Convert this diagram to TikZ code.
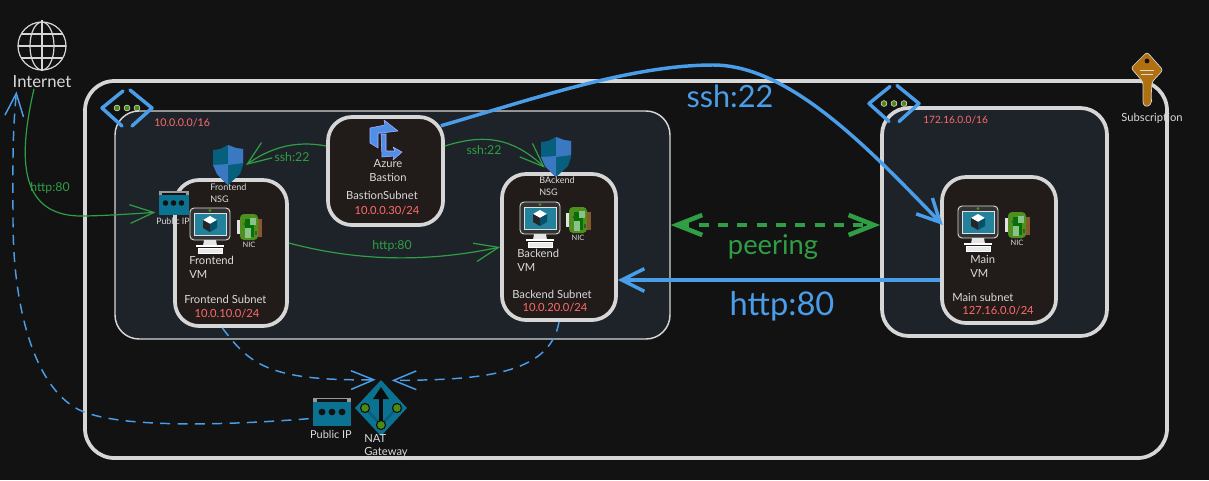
\documentclass[tikz,border=0pt]{standalone}
\usepackage{fontspec}
\setmainfont{Lato}
\usetikzlibrary{positioning, arrows.meta}

\definecolor{bgdark}{HTML}{121212}
\definecolor{vnetfill}{HTML}{1E2329}
\definecolor{subfill}{HTML}{211C1A}
\definecolor{edgegrey}{HTML}{D6D6D6}
\definecolor{txtgrey}{HTML}{DADADA}
\definecolor{redlbl}{HTML}{FF6B6B}
\definecolor{bluelink}{HTML}{4A9DE8}
\definecolor{greenlink}{HTML}{2F9E44}
\definecolor{tealicon}{HTML}{0B7391}
\definecolor{darkteal}{HTML}{065F7D}
\definecolor{shieldblue}{HTML}{3A78C2}
\definecolor{keyorange}{HTML}{B0700F}
\definecolor{nicgreen}{HTML}{4E8F1E}
\definecolor{dotgreen}{HTML}{4C8A12}
\definecolor{bastionblue}{HTML}{4E8FE8}

\tikzset{
	pics/globeicon/.style={code={
		\draw[edgegrey, line width=.9pt] (0,0) circle (18pt);
		\draw[edgegrey, line width=.9pt] (0,0) ellipse (9pt and 18pt);
		\draw[edgegrey, line width=.9pt] (0,-26) -- (0,25);
		\draw[edgegrey, line width=.9pt] (-24,0) -- (24,0);
		\draw[edgegrey, line width=.9pt] (-21,-12) -- (21,-12);
		\draw[edgegrey, line width=.9pt] (-21,12) -- (21,12);
	}},
	pics/vneticon/.style={code={
		\draw[bluelink, line width=2.6pt, line cap=round, line join=round] (-4,-17) -- (-25,0) -- (-5,18);
		\draw[bluelink, line width=2.6pt, line cap=round, line join=round] (3,-18) -- (25,0) -- (5,18);
		\foreach \dotx in {-10,0,10}
			\draw[fill=dotgreen, draw=txtgrey!70, line width=.4pt] (\dotx,0) circle (2.2pt);
	}},
	pics/moniticon/.style={code={
		\draw[txtgrey, fill=bgdark!70!gray, line width=.7pt, rounded corners=3pt] (-20,-16) rectangle (20,16);
		\draw[txtgrey!80, fill=tealicon!90!white, line width=.7pt] (-16,-11) rectangle (16,11);
		\fill[dotgreen] (0,-13.5) circle (1.2pt);
		\fill[white] (-7,-4) -- (0,-8) -- (7,-4) -- (0,0) -- cycle;
		\fill[black!85] (-7,-4) -- (0,0) -- (0,8) -- (-7,4) -- cycle;
		\fill[darkteal!85!black] (7,-4) -- (0,0) -- (0,8) -- (7,4) -- cycle;
		\fill[txtgrey!70] (-6,16) -- (6,16) -- (7,22) -- (-7,22) -- cycle;
		\draw[white, line width=.8pt] (-14,22) -- (14,22);
		\draw[white, fill=txtgrey!60, line width=.6pt] (-12,24) rectangle (12,29);
	}},
	pics/nicicon/.style={code={
		\fill[txtgrey!80] (-12,-7) rectangle (-7,7);
		\fill[brown!70!black] (8,-8) rectangle (13,10);
		\fill[nicgreen, rounded corners=3pt] (-9,-13) rectangle (9,13);
		\fill[green!45!black] (-4,-8) rectangle (5,10);
		\fill[green!30!gray!70] (1,-9) rectangle (7,-2);
		\fill[green!30!gray!70] (-4,1) rectangle (2,11);
		\fill[black!70] (-4,-3) circle (1.2pt);
		\fill[black!70] (6,4) rectangle (8,8);
	}},
	pics/shieldicon/.style={code={
		\fill[darkteal] (-15,-15) -- (-8,-16) -- (0,-20) -- (8,-17) -- (15,-16) -- (15,0) -- (12,9) -- (0,20) -- (-11,9) -- (-15,0) -- cycle;
		\fill[shieldblue] (0,-20) -- (8,-17) -- (15,-16) -- (15,-2) -- (0,0) -- cycle;
		\fill[shieldblue] (-15,0) -- (0,-1) -- (0,20) -- (-11,9) -- cycle;
	}},
	pics/ipicon/.style={code={
		\fill[tealicon] (-15,-12) rectangle (15,12);
		\fill[gray!80] (-15,-12) rectangle (15,-8);
		\fill[bgdark] (-12,-10.5) rectangle (12,-8.5);
		\foreach \dotx in {-8,0,8}
			\fill[bgdark] (\dotx,0) circle (2.1pt);
	}},
	pics/naticon/.style={code={
		\fill[tealicon] (0,-28) -- (26,0) -- (0,28) -- (-26,0) -- cycle;
		\draw[darkteal, line width=2pt] (-16,0) -- (0,17) -- (16,0);
		\draw[bgdark!70!black, line width=3pt] (0,17) -- (0,-10);
		\fill[bgdark!70!black] (-8,-9) -- (0,-21) -- (8,-9) -- cycle;
		\foreach \natx/\naty in {-16/0, 16/0, 0/17}
			\fill[dotgreen, draw=bgdark!70!black, line width=.8pt] (\natx,\naty) circle (3.4pt);
	}},
	pics/bastionicon/.style={code={
		\draw[fill=bastionblue, draw=blue!30!white, line width=.4pt, line join=round] (-16,-11) -- (-1,-14) -- (-2,-19) -- (12,-8) -- (-4,-6) -- (-8,-6) -- (-8,9) -- (-16,4) -- cycle;
		\draw[fill=bastionblue, draw=blue!30!white, line width=.4pt, line join=round] (-5,-5) -- (0,-5) -- (0,12) -- (9,12) -- (7,8) -- (16,13) -- (7,21) -- (8,17) -- (-4,18) -- cycle;
	}},
	pics/keyicon/.style={code={
		\fill[keyorange, draw=txtgrey, line width=.5pt, rounded corners=2pt] (0,-17) -- (16,1) -- (5,13) -- (4,30) -- (5,33) -- (1,38) -- (-4,36) -- (-4,13) -- (-16,-1) -- cycle;
		\fill[bgdark] (0,-8) circle (1.8pt);
		\draw[txtgrey, line width=.5pt] (-7,1) -- (7,1);
		\draw[txtgrey, line width=.5pt] (-6,5) -- (6,5);
	}},
}

\begin{document}
\begin{tikzpicture}[
		x=.75pt, y=-.75pt,
		subscr/.style={draw=edgegrey, line width=2.8pt, rounded corners=22pt, minimum width=1082*.75pt, minimum height=377*.75pt},
		vnetbox/.style={draw=edgegrey, fill=vnetfill, rounded corners=18pt},
		subnet/.style={draw=edgegrey, fill=subfill, line width=2.8pt, rounded corners=18pt, minimum width=112*.75pt},
		iconbox/.style={inner sep=0pt, minimum width=30*.75pt, minimum height=24*.75pt},
		txt/.style={text=txtgrey, inner sep=0pt, align=left, font=\fontsize{8.4}{10.5}\selectfont},
		tinytxt/.style={text=txtgrey, inner sep=0pt, align=left, font=\fontsize{5.6}{7.8}\selectfont},
		ipaddr/.style={text=redlbl, inner sep=0pt, font=\fontsize{8.4}{10}\selectfont},
		greenlbl/.style={text=greenlink, inner sep=0pt, font=\fontsize{9.2}{10}\selectfont},
		biglbl/.style={inner sep=0pt},
		thinarrow/.style={draw=greenlink, line width=.9pt, -{Straight Barb[length=18pt, width=14pt]}},
		dasharrow/.style={draw=bluelink, line width=1.1pt, dash pattern=on 7.5pt off 5.5pt, -{Straight Barb[length=17pt, width=14pt]}},
		fatarrow/.style={draw=bluelink, line width=2.6pt, -{Straight Barb[length=17pt, width=17pt]}},
		peerarrow/.style={draw=greenlink, line width=3.4pt, dash pattern=on 7.5pt off 7pt, {Straight Barb[length=19pt, width=15pt]}-{Straight Barb[length=19pt, width=15pt]}}
		]
		% Backdrop and boxes
		\path[fill=bgdark, use as bounding box] (0,0) rectangle (1209,480);
		\node[subscr] (subscription) at (626,269.5) {};
		\node[vnetbox, line width=1.1pt, minimum width=555*.75pt, minimum height=228*.75pt] (vnetone) at (392.5,225) {};
		\node[vnetbox, line width=2.8pt, rounded corners=20pt, minimum width=225*.75pt, minimum height=228*.75pt] (vnettwo) at (994.5,222) {};
		\node[subnet, minimum height=146*.75pt] (frontend) at (231,253) {};
		\node[subnet, minimum width=115*.75pt, minimum height=108*.75pt] (bastion) at (385.5,171) {};
		\node[subnet, minimum width=114*.75pt, minimum height=146*.75pt] (backend) at (559,247) {};
		\node[subnet, minimum width=114*.75pt, minimum height=146*.75pt] (mainsub) at (999,250) {};

		% Icon anchors
		\node[iconbox, minimum height=20*.75pt] (internetglobe) at (42,46) {};
		\node[txt, font=\fontsize{12.5}{14}\selectfont, below=14pt of internetglobe] (internet) {Internet};
		\node[iconbox] (ipfront) at (173.5,203) {};
		\node[iconbox, minimum height=40*.75pt] (nsgfront) at (228,165) {};
		\node[iconbox, minimum height=40*.75pt] (nsgback) at (556,157) {};
		\node[iconbox, minimum width=38*.75pt, minimum height=29*.75pt] (ipnat) at (332,412) {};
		\node[iconbox, minimum width=52*.75pt, minimum height=56*.75pt] (natgw) at (381,408) {};

		% Connectors
		\draw[thinarrow] ([xshift=-6pt, yshift=-1pt]internet.south) .. controls (20,150) and (15,215) .. (80,216) .. controls (100,216) and (130,214) .. ([xshift=-2pt, yshift=-7pt]ipfront.west);
		\draw[dasharrow] ([xshift=-3pt, yshift=-5pt]ipnat.west) .. controls (230,425) and (130,428) .. (87,413) .. controls (40,398) and (13,320) .. (13,220) .. controls (13,170) and (12,140) .. ([xshift=3pt, yshift=-3pt]internet.south west);
		\draw[thinarrow] ([yshift=18.75pt]bastion.west) .. controls (295,140) and (270,148) .. ([xshift=2pt]nsgfront.east);
		\draw[thinarrow] ([yshift=18.75pt]bastion.east) .. controls (480,135) and (510,135) .. ([xshift=3pt, yshift=-8pt]nsgback.west);
		\draw[thinarrow] ([yshift=7.5pt]frontend.east) .. controls (360,262) and (430,262) .. (backend.west);
		\draw[dasharrow] ([xshift=-6.5pt]frontend.south) .. controls (250,365) and (270,381) .. ([xshift=-4pt]natgw.north);
		\draw[dasharrow] (backend.south) .. controls (550,375) and (480,380) .. ([xshift=8pt, yshift=-.5pt]natgw.north);
		\draw[fatarrow] ([xshift=-3pt, yshift=-8pt]bastion.north east) .. controls (530,100) and (630,65) .. (713,65) .. controls (790,65) and (870,150) .. ([xshift=2pt, yshift=18.75pt]mainsub.west);
		\draw[fatarrow] ([yshift=-22.5pt]mainsub.west) -- ([yshift=-24.75pt]backend.east);
		\draw[peerarrow] (vnetone.east) -- ([yshift=-2.25pt]vnettwo.west);

		% Icons
		\pic at (internetglobe) {globeicon};
		\pic at (127,108) {vneticon};
		\pic at (894,103.5) {vneticon};
		\pic at (ipfront) {ipicon};
		\pic at (nsgfront) {shieldicon};
		\pic at (nsgback) {shieldicon};
		\pic at (ipnat) [xscale=1.25, yscale=1.2] {ipicon};
		\pic at (natgw) {naticon};
		\pic at (386,139) {bastionicon};
		\pic at (1147,69) {keyicon};
		\pic at (210,224) {moniticon};
		\pic at (540,218) {moniticon};
		\pic at (978,222) {moniticon};
		\node[iconbox, minimum width=26*.75pt, minimum height=26*.75pt] (nicfront) at (249,227) {};
		\node[iconbox, minimum width=26*.75pt, minimum height=26*.75pt] (nicback) at (578,220) {};
		\node[iconbox, minimum width=26*.75pt, minimum height=26*.75pt] (nicmain) at (1017,225) {};
		\pic at (nicfront) {nicicon};
		\pic at (nicback) {nicicon};
		\pic at (nicmain) {nicicon};

		% Labels
		\node[tinytxt, font=\fontsize{6.6}{7.8}\selectfont] (ipfrontlbl) at (173,221) {Public IP};
		\node[tinytxt, font=\fontsize{6.8}{8.4}\selectfont, anchor=north west] (nsgfrontlbl) at (210,184) {Frontend\\NSG};
		\node[tinytxt, below=1pt of nicfront] (nicfrontlbl) {NIC};
		\node[txt, anchor=north west] (frontvm) at (189,256) {Frontend\\VM};
		\node[txt, anchor=west] (frontlbl) at (184,299) {Frontend Subnet};
		\node[ipaddr] (frontip) at (227,314) {10.0.10.0/24};

		\node[txt, align=center] (bastionname) at (388,171) {Azure\\Bastion};
		\node[txt] (bastionlbl) at (382,195) {BastionSubnet};
		\node[ipaddr] (bastionip) at (387,211) {10.0.0.30/24};

		\node[tinytxt, font=\fontsize{6.8}{8.4}\selectfont, anchor=north west] (nsgbacklbl) at (539,177) {BAckend\\NSG};
		\node[tinytxt, below=1pt of nicback] (nicbacklbl) {NIC};
		\node[txt, anchor=north west] (backvm) at (517,249) {Backend\\VM};
		\node[txt, anchor=west] (backlbl) at (512,294) {Backend Subnet};
		\node[ipaddr] (backip) at (555,308) {10.0.20.0/24};

		\node[tinytxt, below=1pt of nicmain] (nicmainlbl) {NIC};
		\node[txt, anchor=north west] (mainvm) at (970,255) {Main\\VM};
		\node[txt, anchor=west] (mainlbl) at (952,297) {Main subnet};
		\node[ipaddr] (mainip) at (998,311) {127.16.0.0/24};

		\node[ipaddr, font=\fontsize{8}{9}\selectfont, anchor=west] (vnetonelbl) at (154,123) {10.0.0.0/16};
		\node[ipaddr, font=\fontsize{7.6}{9}\selectfont, anchor=west] (vnettwolbl) at (923,120) {172.16.0.0/16};
		\node[tinytxt, font=\fontsize{8.4}{9}\selectfont] (subscriptionlbl) at (1152,118) {Subscription};
		\node[tinytxt, font=\fontsize{8.2}{9}\selectfont] (ipnatlbl) at (331,435) {Public IP};
		\node[tinytxt, font=\fontsize{8.4}{10}\selectfont, anchor=north west] (natlbl) at (364,434) {NAT\\Gateway};

		\node[greenlbl] (httpnet) at (50,188) {http:80};
		\node[greenlbl] (sshfront) at (292,157) {ssh:22};
		\node[greenlbl] (sshback) at (484,150) {ssh:22};
		\node[greenlbl] (httpfront) at (392,246) {http:80};
		\node[biglbl, text=bluelink, font=\fontsize{23}{25}\selectfont] (sshbig) at (730,96) {ssh:22};
		\node[biglbl, text=bluelink, font=\fontsize{24.5}{26}\selectfont] (httpbig) at (782,306) {http:80};
		\node[biglbl, text=greenlink, font=\fontsize{20.5}{23}\selectfont] (peerlbl) at (773,247) {peering};
	\end{tikzpicture}
\end{document}
